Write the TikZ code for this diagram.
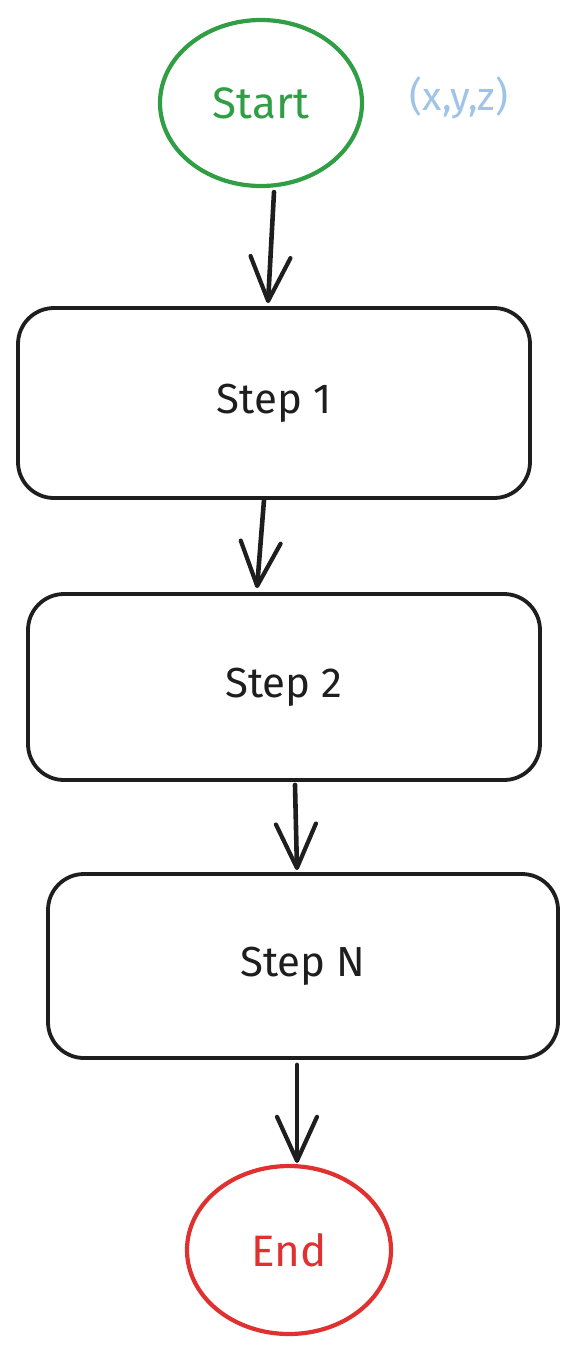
\documentclass[tikz,border=0pt]{standalone}
\usepackage{fontspec}
\setmainfont{Fira Sans}
\usetikzlibrary{shapes.geometric,arrows.meta,calc}
\definecolor{ink}{HTML}{1E1E1E}
\definecolor{sgreen}{HTML}{2F9E44}
\definecolor{ered}{HTML}{E03131}
\definecolor{lblue}{HTML}{A0C4E8}
\tikzset{
  x=1pt, y=-1pt,
  stepbox/.style={draw=ink, line width=3.8pt, rounded corners=36pt, rectangle, inner sep=0pt,
    text=ink, font=\fontsize{42}{46}\selectfont},
  oval/.style={ellipse, line width=4.2pt, inner sep=0pt, font=\fontsize{44}{48}\selectfont},
  flow/.style={draw=ink, line width=4.6pt, line cap=round,
    -{Straight Barb[length=44pt, width=40pt, line width=4.2pt, round]}},
}
\begin{document}
\begin{tikzpicture}
\useasboundingbox (0,0) rectangle (579,1355);
\node[oval, draw=sgreen, text=sgreen, minimum width=202pt, minimum height=166pt] (start) at (261,103) {Start};
\node[text=lblue, font=\fontsize{40}{44}\selectfont, anchor=center] (coord) at (459,98) {(x,y,z)};
\node[stepbox, minimum width=512pt, minimum height=190pt] (s1) at (274,403) {Step 1};
\node[stepbox, minimum width=512pt, minimum height=186pt] (s2) at (284,687) {Step 2};
\node[stepbox, minimum width=510pt, minimum height=184pt] (sn) at (303,966) {Step N};
\node[oval, draw=ered, text=ered, minimum width=204pt, minimum height=168pt] (end) at (289,1250) {End};
\draw[flow] ($(start.south)+(13,4)$) -- ($(s1.north)+(-6,-3)$);
\draw[flow] ($(s1.south)+(-10,0)$) -- ($(s2.north)+(-27,-4)$);
\draw[flow] ($(s2.south)+(11,3)$) -- ($(sn.north)+(-6,-2)$);
\draw[flow] ($(sn.south)+(-6,5)$) -- ($(end.north)+(8,-1)$);
\end{tikzpicture}
\end{document}
